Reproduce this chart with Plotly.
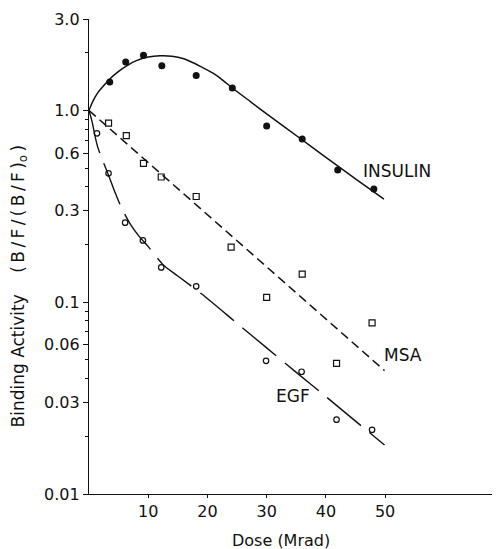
import numpy as np
import plotly.graph_objects as go

# ---- data ----
insulin_x = [3.5, 6.2, 9.2, 12.3, 18.1, 24.2, 30.0, 36.0, 42.0, 48.1]
insulin_y = [1.41, 1.79, 1.94, 1.71, 1.52, 1.31, 0.83, 0.71, 0.49, 0.39]

msa_x = [3.3, 6.3, 9.2, 12.2, 18.1, 24.0, 30.0, 36.0, 41.8, 47.8]
msa_y = [0.86, 0.74, 0.53, 0.45, 0.356, 0.194, 0.106, 0.140, 0.048, 0.078]

egf_x = [1.35, 3.3, 6.1, 9.1, 12.2, 18.1, 29.9, 35.9, 41.8, 47.8]
egf_y = [0.76, 0.47, 0.26, 0.21, 0.152, 0.121, 0.0495, 0.0434, 0.0244, 0.0216]

# fitted curves
insulin_fit_x = [0, 0.5, 1.0, 1.5, 2.5, 3.5, 5, 6.5, 8, 10, 12, 14, 16, 18.8, 21, 22.2, 24.2, 27.3, 30, 35.8, 40, 45, 49.8]
insulin_fit_y = [1.0, 1.09, 1.17, 1.24, 1.35, 1.46, 1.60, 1.72, 1.82, 1.90, 1.93, 1.92, 1.86, 1.70, 1.56, 1.47, 1.31, 1.11, 0.96, 0.71, 0.57, 0.44, 0.345]

msa_fit_x = [0, 49.9]
msa_fit_y = [1.0, 0.044]

egf_fit_x = [0, 0.5, 1.0, 1.5, 2.4, 3.3, 4.3, 5.5, 7, 8.5, 10, 12.5, 15, 19.1, 25, 30, 35, 40, 45, 49.9]
egf_fit_y = [1.0, 0.88, 0.74, 0.64, 0.54, 0.46, 0.38, 0.31, 0.255, 0.22, 0.195, 0.157, 0.137, 0.11, 0.0776, 0.0578, 0.0431, 0.0322, 0.024, 0.018]

y_major_vals = [0.01, 0.03, 0.06, 0.1, 0.3, 0.6, 1.0, 3.0]
y_major_text = ["0.01", "0.03", "0.06", "0.1", "0.3", "0.6", "1.0", "3.0"]
y_minor_vals = [2, 0.9, 0.8, 0.7, 0.5, 0.4, 0.2, 0.09, 0.08, 0.07, 0.05, 0.04, 0.02]
x_tick_vals = [10, 20, 30, 40, 50]

FONT = "DejaVu Sans"
INK = "#111111"

fig = go.Figure()

fig.add_trace(go.Scatter(x=insulin_fit_x, y=insulin_fit_y, mode="lines",
                         line=dict(color=INK, width=1.5, shape="spline", smoothing=0.6),
                         hoverinfo="skip", showlegend=False))
fig.add_trace(go.Scatter(x=msa_fit_x, y=msa_fit_y, mode="lines",
                         line=dict(color=INK, width=1.5, dash="9px,5px"),
                         hoverinfo="skip", showlegend=False))
fig.add_trace(go.Scatter(x=egf_fit_x, y=egf_fit_y, mode="lines",
                         line=dict(color=INK, width=1.4, dash="44px,11px", shape="spline", smoothing=0.6),
                         hoverinfo="skip", showlegend=False))

fig.add_trace(go.Scatter(x=insulin_x, y=insulin_y, mode="markers", name="INSULIN",
                         marker=dict(symbol="circle", size=7, color=INK, line=dict(width=0)),
                         showlegend=False))
fig.add_trace(go.Scatter(x=msa_x, y=msa_y, mode="markers", name="MSA",
                         marker=dict(symbol="square-open", size=6, color=INK, line=dict(width=1.2)),
                         showlegend=False))
fig.add_trace(go.Scatter(x=egf_x, y=egf_y, mode="markers", name="EGF",
                         marker=dict(symbol="circle-open", size=5.5, color=INK, line=dict(width=1.2)),
                         showlegend=False))

label_font = dict(family=FONT, size=17, color=INK)
for txt, lx, ly in [("INSULIN", 52.0, -0.313), ("MSA", 53.0, -1.276), ("EGF", 34.5, -1.490)]:
    fig.add_annotation(x=lx, y=ly, xref="x", yref="y", text=txt, showarrow=False,
                       font=label_font, xanchor="center", yanchor="middle")

T = "\u2009"
NB = "\u00a0"
paren = T.join(["(", "B", "/", "F", "/", "(", "B", "/", "F", ")"]) + "<sub>o</sub>" + T + ")"
ytitle = "Binding" + NB + "Activity" + NB * 4 + paren

fig.add_annotation(x=0.4668, y=-0.097, xref="paper", yref="paper", text="Dose (Mrad)",
                   showarrow=False, font=dict(family=FONT, size=16, color=INK),
                   xanchor="center", yanchor="middle")
fig.add_annotation(x=-0.169, y=0.438, xref="paper", yref="paper",
                   text=ytitle, textangle=-90, borderpad=0,
                   showarrow=False, font=dict(family=FONT, size=17, color=INK),
                   xanchor="center", yanchor="middle")

# the page body adds an 8px offset, so the figure is sized 492x541
fig.update_layout(
    width=492, height=541,
    margin=dict(l=81, r=0, t=11, b=55, autoexpand=False),
    paper_bgcolor="white", plot_bgcolor="white",
    font=dict(family=FONT, size=16, color=INK),
    xaxis=dict(range=[0, 69.4], showline=True, linecolor=INK, linewidth=1.3,
               showgrid=False, zeroline=False, tickvals=x_tick_vals, automargin=False,
               ticks="outside", ticklen=3, tickwidth=1, tickcolor=INK,
               tickfont=dict(family=FONT, size=16, color=INK)),
    yaxis=dict(type="log", range=[-2, np.log10(3.0)], showline=True, linecolor=INK, linewidth=1.3,
               showgrid=False, zeroline=False, tickvals=y_major_vals, ticktext=y_major_text,
               automargin=False,
               ticks="outside", ticklen=5, tickwidth=1.2, tickcolor=INK,
               tickfont=dict(family=FONT, size=16, color=INK),
               minor=dict(tickvals=y_minor_vals, ticks="outside", ticklen=3, tickwidth=1, tickcolor=INK, showgrid=False)),
)

fig.write_html("out.html")
